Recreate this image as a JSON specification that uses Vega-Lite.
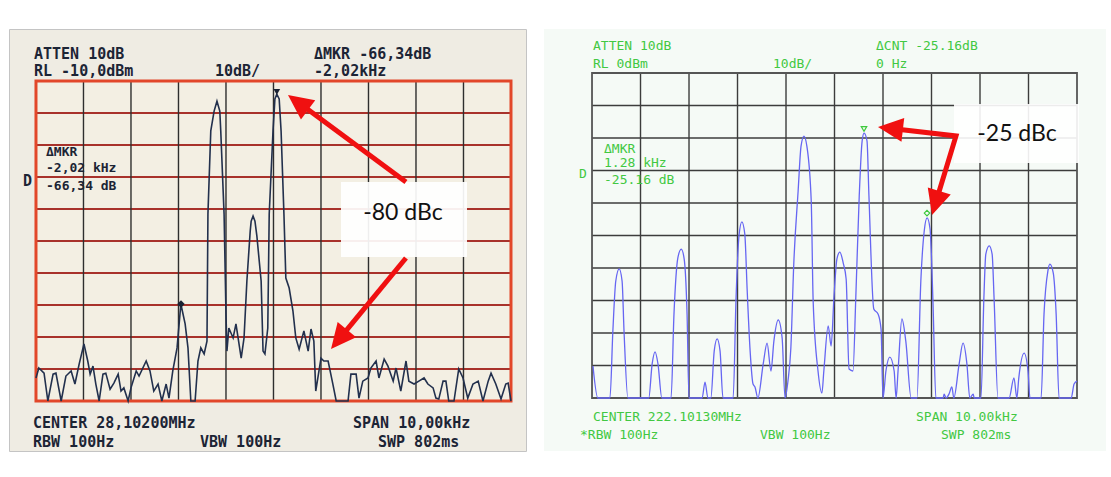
{
  "$schema": "https://vega.github.io/schema/vega-lite/v6.json",
  "background": "white",
  "padding": {"left": 8, "top": 28, "right": 0, "bottom": 0},
  "spacing": 18,
  "bounds": "flush",
  "config": {"view": {"stroke": null}, "axis": {"disable": true}},
  "datasets": {
    "leftTrace": [
      {"f":-5.00,"db":-102.8},{"f":-4.94,"db":-99.7},{"f":-4.83,"db":-101.3},{"f":-4.75,"db":-110},{"f":-4.64,"db":-101.6},{"f":-4.58,"db":-101.3},{"f":-4.47,"db":-110},{"f":-4.37,"db":-102.2},{"f":-4.26,"db":-100.6},{"f":-4.18,"db":-104.7},{"f":-4.09,"db":-98.4},{"f":-3.99,"db":-92.2},{"f":-3.91,"db":-97.5},{"f":-3.86,"db":-101.6},{"f":-3.80,"db":-99.1},{"f":-3.74,"db":-104.7},{"f":-3.67,"db":-110},{"f":-3.59,"db":-101.6},{"f":-3.53,"db":-101.3},{"f":-3.44,"db":-106.3},{"f":-3.36,"db":-104.4},{"f":-3.27,"db":-101.6},{"f":-3.21,"db":-106.9},{"f":-3.15,"db":-105.9},{"f":-3.06,"db":-110},{"f":-3.00,"db":-105.9},{"f":-2.89,"db":-100.6},{"f":-2.83,"db":-102.2},{"f":-2.68,"db":-97.5},{"f":-2.60,"db":-100.6},{"f":-2.52,"db":-106.9},{"f":-2.43,"db":-104.7},{"f":-2.35,"db":-110},{"f":-2.26,"db":-104.7},{"f":-2.20,"db":-109.1},{"f":-2.12,"db":-100.6},{"f":-2.03,"db":-93.4},{"f":-1.95,"db":-79.7},{"f":-1.86,"db":-85.9},{"f":-1.80,"db":-93.4},{"f":-1.74,"db":-110},{"f":-1.65,"db":-110},{"f":-1.59,"db":-97.5},{"f":-1.53,"db":-93.4},{"f":-1.46,"db":-95.3},{"f":-1.40,"db":-91.3},{"f":-1.38,"db":-51.6},{"f":-1.32,"db":-25.6},{"f":-1.25,"db":-19.4},{"f":-1.19,"db":-16.3},{"f":-1.13,"db":-19.4},{"f":-1.11,"db":-25.6},{"f":-1.04,"db":-51.6},{"f":-1.00,"db":-82.8},{"f":-0.98,"db":-94.4},{"f":-0.94,"db":-87.2},{"f":-0.85,"db":-90.3},{"f":-0.79,"db":-85.9},{"f":-0.68,"db":-96.6},{"f":-0.62,"db":-90.3},{"f":-0.56,"db":-72.5},{"f":-0.49,"db":-56.9},{"f":-0.47,"db":-53.8},{"f":-0.43,"db":-52.2},{"f":-0.39,"db":-53.8},{"f":-0.35,"db":-58.4},{"f":-0.26,"db":-72.5},{"f":-0.22,"db":-94.4},{"f":-0.18,"db":-95.3},{"f":-0.12,"db":-87.2},{"f":-0.09,"db":-51.6},{"f":-0.01,"db":-25.6},{"f":0.03,"db":-15.6},{"f":0.07,"db":-14.1},{"f":0.12,"db":-15.6},{"f":0.16,"db":-25.6},{"f":0.22,"db":-51.6},{"f":0.26,"db":-71.6},{"f":0.33,"db":-74.7},{"f":0.41,"db":-81.9},{"f":0.47,"db":-90.3},{"f":0.54,"db":-93.8},{"f":0.64,"db":-88.1},{"f":0.73,"db":-94.4},{"f":0.79,"db":-87.5},{"f":0.85,"db":-91.3},{"f":0.89,"db":-106.9},{"f":1.00,"db":-96.6},{"f":1.06,"db":-97.5},{"f":1.15,"db":-97.5},{"f":1.25,"db":-104.7},{"f":1.32,"db":-110},{"f":1.57,"db":-110},{"f":1.63,"db":-101.6},{"f":1.74,"db":-101.6},{"f":1.80,"db":-109.1},{"f":1.88,"db":-103.8},{"f":1.99,"db":-102.8},{"f":2.05,"db":-99.7},{"f":2.16,"db":-97.5},{"f":2.22,"db":-102.8},{"f":2.33,"db":-96.9},{"f":2.41,"db":-99.1},{"f":2.52,"db":-103.8},{"f":2.58,"db":-99.7},{"f":2.68,"db":-106.9},{"f":2.79,"db":-97.5},{"f":2.85,"db":-103.8},{"f":2.96,"db":-104.7},{"f":3.06,"db":-103.8},{"f":3.17,"db":-102.8},{"f":3.25,"db":-104.7},{"f":3.36,"db":-105.9},{"f":3.42,"db":-109.1},{"f":3.48,"db":-109.4},{"f":3.57,"db":-103.8},{"f":3.63,"db":-103.8},{"f":3.69,"db":-110},{"f":3.80,"db":-110},{"f":3.90,"db":-100},{"f":3.99,"db":-102.8},{"f":4.09,"db":-109.1},{"f":4.20,"db":-104.7},{"f":4.31,"db":-103.8},{"f":4.41,"db":-110},{"f":4.52,"db":-103.8},{"f":4.58,"db":-101.3},{"f":4.68,"db":-104.7},{"f":4.79,"db":-109.4},{"f":4.89,"db":-104.7},{"f":4.94,"db":-104.4},{"f":5.00,"db":-110}
    ],
    "rightTrace": [
      {"f":-4.98,"db":-90.2},{"f":-4.88,"db":-100},{"f":-4.63,"db":-100},{"f":-4.57,"db":-79.4},{"f":-4.51,"db":-64.0},{"f":-4.44,"db":-60.3},{"f":-4.38,"db":-64.0},{"f":-4.34,"db":-79.4},{"f":-4.26,"db":-100},{"f":-3.83,"db":-100},{"f":-3.76,"db":-89.5},{"f":-3.70,"db":-85.8},{"f":-3.64,"db":-89.5},{"f":-3.56,"db":-100},{"f":-3.37,"db":-100},{"f":-3.31,"db":-74.2},{"f":-3.23,"db":-56.9},{"f":-3.16,"db":-54.2},{"f":-3.10,"db":-57.2},{"f":-3.04,"db":-74.2},{"f":-3.00,"db":-100},{"f":-2.73,"db":-100},{"f":-2.67,"db":-95.1},{"f":-2.61,"db":-100},{"f":-2.55,"db":-100},{"f":-2.48,"db":-85.5},{"f":-2.42,"db":-81.8},{"f":-2.36,"db":-85.5},{"f":-2.30,"db":-100},{"f":-2.09,"db":-100},{"f":-2.03,"db":-69.2},{"f":-1.97,"db":-50.2},{"f":-1.91,"db":-45.8},{"f":-1.85,"db":-49.5},{"f":-1.80,"db":-67.1},{"f":-1.74,"db":-85.5},{"f":-1.68,"db":-95.7},{"f":-1.64,"db":-96.6},{"f":-1.58,"db":-100},{"f":-1.47,"db":-89.5},{"f":-1.39,"db":-83.1},{"f":-1.31,"db":-91.7},{"f":-1.25,"db":-82.5},{"f":-1.16,"db":-76.0},{"f":-1.08,"db":-81.5},{"f":-1.02,"db":-100},{"f":-0.96,"db":-94.8},{"f":-0.90,"db":-84.6},{"f":-0.84,"db":-58.8},{"f":-0.75,"db":-36.3},{"f":-0.69,"db":-22.5},{"f":-0.63,"db":-19.4},{"f":-0.57,"db":-22.5},{"f":-0.48,"db":-39.4},{"f":-0.44,"db":-70.2},{"f":-0.34,"db":-91.7},{"f":-0.26,"db":-98.5},{"f":-0.22,"db":-91.7},{"f":-0.13,"db":-77.8},{"f":-0.07,"db":-84.0},{"f":-0.01,"db":-68.6},{"f":0.05,"db":-57.2},{"f":0.11,"db":-55.1},{"f":0.18,"db":-58.5},{"f":0.24,"db":-63.4},{"f":0.30,"db":-91.1},{"f":0.38,"db":-91.7},{"f":0.44,"db":-68.6},{"f":0.51,"db":-37.8},{"f":0.57,"db":-20.9},{"f":0.61,"db":-18.5},{"f":0.67,"db":-20.9},{"f":0.71,"db":-37.8},{"f":0.81,"db":-72.6},{"f":0.90,"db":-74.2},{"f":0.96,"db":-78.8},{"f":1.00,"db":-100},{"f":1.06,"db":-91.7},{"f":1.14,"db":-87.4},{"f":1.23,"db":-91.7},{"f":1.27,"db":-100},{"f":1.31,"db":-91.7},{"f":1.39,"db":-75.7},{"f":1.47,"db":-82.5},{"f":1.58,"db":-100},{"f":1.70,"db":-100},{"f":1.78,"db":-64.0},{"f":1.85,"db":-48.6},{"f":1.91,"db":-44.6},{"f":1.97,"db":-48.0},{"f":2.03,"db":-70.2},{"f":2.09,"db":-100},{"f":2.24,"db":-100},{"f":2.26,"db":-98.8},{"f":2.30,"db":-100},{"f":2.36,"db":-98.8},{"f":2.42,"db":-96.6},{"f":2.46,"db":-100},{"f":2.57,"db":-89.5},{"f":2.65,"db":-83.1},{"f":2.73,"db":-89.5},{"f":2.79,"db":-100},{"f":2.86,"db":-98.8},{"f":2.88,"db":-100},{"f":3.02,"db":-100},{"f":3.08,"db":-69.2},{"f":3.12,"db":-55.7},{"f":3.19,"db":-53.2},{"f":3.25,"db":-55.7},{"f":3.29,"db":-69.2},{"f":3.37,"db":-100},{"f":3.60,"db":-100},{"f":3.70,"db":-93.8},{"f":3.76,"db":-100},{"f":3.80,"db":-93.8},{"f":3.91,"db":-86.2},{"f":3.99,"db":-91.7},{"f":4.03,"db":-100},{"f":4.26,"db":-100},{"f":4.32,"db":-74.2},{"f":4.40,"db":-60.9},{"f":4.44,"db":-58.8},{"f":4.51,"db":-61.5},{"f":4.57,"db":-74.2},{"f":4.63,"db":-100},{"f":4.88,"db":-100},{"f":4.94,"db":-95.7},{"f":5.00,"db":-94.8}
    ],
    "vgrid": [{"f":-4},{"f":-3},{"f":-2},{"f":-1},{"f":0},{"f":1},{"f":2},{"f":3},{"f":4}],
    "leftH": [{"db":-20},{"db":-30},{"db":-40},{"db":-50},{"db":-60},{"db":-70},{"db":-80},{"db":-90},{"db":-100}],
    "rightH": [{"db":-10},{"db":-20},{"db":-30},{"db":-40},{"db":-50},{"db":-60},{"db":-70},{"db":-80},{"db":-90}],
    "leftText": [
      {"f":-5.042,"db":-1.56,"label":"ATTEN 10dB"},
      {"f":-5.042,"db":-6.88,"label":"RL -10,0dBm"},
      {"f":-1.232,"db":-6.88,"label":"10dB/"},
      {"f":0.853,"db":-1.56,"label":"ΔMKR -66,34dB"},
      {"f":0.853,"db":-6.88,"label":"-2,02kHz"},
      {"f":-5.274,"db":-41.25,"label":"D"},
      {"f":-5.063,"db":-116.9,"label":"CENTER 28,10200MHz"},
      {"f":1.674,"db":-116.9,"label":"SPAN 10,00kHz"},
      {"f":-5.063,"db":-122.8,"label":"RBW 100Hz"},
      {"f":-1.547,"db":-122.8,"label":"VBW 100Hz"},
      {"f":2.2,"db":-122.8,"label":"SWP 802ms"}
    ],
    "leftMkr": [
      {"f":-4.789,"db":-32.2,"label":"ΔMKR"},
      {"f":-4.789,"db":-37.2,"label":"-2,02 kHz"},
      {"f":-4.789,"db":-42.8,"label":"-66,34 dB"}
    ],
    "rightText": [
      {"f":-4.979,"db":8.46,"label":"ATTEN 10dB"},
      {"f":-4.979,"db":2.65,"label":"RL 0dBm"},
      {"f":-1.268,"db":2.65,"label":"10dB/"},
      {"f":0.856,"db":8.46,"label":"ΔCNT -25.16dB"},
      {"f":0.856,"db":2.65,"label":"0 Hz"},
      {"f":-4.753,"db":-23.38,"label":"ΔMKR"},
      {"f":-4.753,"db":-27.69,"label":"1.28 kHz"},
      {"f":-4.753,"db":-32.92,"label":"-25.16 dB"},
      {"f":-5.268,"db":-31.08,"label":"D"},
      {"f":-4.979,"db":-105.85,"label":"CENTER 222.10130MHz"},
      {"f":1.680,"db":-105.85,"label":"SPAN 10.00kHz"},
      {"f":-5.247,"db":-111.38,"label":"*RBW 100Hz"},
      {"f":-1.536,"db":-111.38,"label":"VBW 100Hz"},
      {"f":2.196,"db":-111.38,"label":"SWP 802ms"}
    ]
  },
  "hconcat": [
    {
      "width": 517,
      "height": 422,
      "view": {"fill": "#efece3", "stroke": "#c4c4c4", "strokeWidth": 1},
      "layer": [
        {
          "data": {"values": [{}]},
          "mark": {"type": "rect", "fill": "#f3efe3"},
          "encoding": {"x": {"datum": -5, "type": "quantitative"}, "x2": {"datum": 5}, "y": {"datum": -10, "type": "quantitative"}, "y2": {"datum": -110}}
        },
        {
          "data": {"name": "leftH"},
          "mark": {"type": "rule", "color": "#a8322b", "strokeWidth": 2.2},
          "encoding": {"x": {"datum": -5, "type": "quantitative"}, "x2": {"datum": 5}, "y": {"field": "db", "type": "quantitative"}}
        },
        {
          "data": {"name": "vgrid"},
          "mark": {"type": "rule", "color": "#2e2e2e", "strokeWidth": 1.4},
          "encoding": {"x": {"field": "f", "type": "quantitative"}, "y": {"datum": -10, "type": "quantitative"}, "y2": {"datum": -110}}
        },
        {
          "data": {"values": [{}]},
          "mark": {"type": "rect", "fillOpacity": 0, "stroke": "#e2472a", "strokeWidth": 3},
          "encoding": {"x": {"datum": -5, "type": "quantitative"}, "x2": {"datum": 5}, "y": {"datum": -10, "type": "quantitative"}, "y2": {"datum": -110}}
        },
        {
          "data": {"name": "leftTrace"},
          "mark": {"type": "line", "color": "#22304d", "strokeWidth": 1.6},
          "encoding": {
            "x": {"field": "f", "type": "quantitative", "scale": {"domain": [-5.568, 5.316], "nice": false, "zero": false}, "axis": null},
            "y": {"field": "db", "type": "quantitative", "scale": {"domain": [-125.625, 6.25], "nice": false, "zero": false}, "axis": null}
          }
        },
        {
          "data": {"values": [{"f": 0.07, "db": -13.4}]},
          "mark": {"type": "point", "shape": "triangle-down", "size": 45, "filled": true, "color": "#1a2233", "opacity": 1},
          "encoding": {"x": {"field": "f", "type": "quantitative"}, "y": {"field": "db", "type": "quantitative"}}
        },
        {
          "data": {"values": [{"f": -1.947, "db": -79.7}]},
          "mark": {"type": "point", "shape": "diamond", "size": 55, "filled": true, "color": "#1a2233", "opacity": 1},
          "encoding": {"x": {"field": "f", "type": "quantitative"}, "y": {"field": "db", "type": "quantitative"}}
        },
        {
          "data": {"name": "leftText"},
          "mark": {"type": "text", "align": "left", "baseline": "middle", "font": "DejaVu Sans Mono", "fontWeight": "bold", "fontSize": 15, "color": "#1c2435"},
          "encoding": {"x": {"field": "f", "type": "quantitative"}, "y": {"field": "db", "type": "quantitative"}, "text": {"field": "label"}}
        },
        {
          "data": {"name": "leftMkr"},
          "mark": {"type": "text", "align": "left", "baseline": "middle", "font": "DejaVu Sans Mono", "fontWeight": "bold", "fontSize": 13, "color": "#1c2435"},
          "encoding": {"x": {"field": "f", "type": "quantitative"}, "y": {"field": "db", "type": "quantitative"}, "text": {"field": "label"}}
        },
        {
          "data": {"values": [{}]},
          "mark": {"type": "rect", "fill": "white", "opacity": 0.92},
          "encoding": {"x": {"datum": 1.421, "type": "quantitative"}, "x2": {"datum": 4.074}, "y": {"datum": -41.56, "type": "quantitative"}, "y2": {"datum": -65.0}}
        },
        {
          "data": {"values": [{"f": 2.726, "db": -51.25, "label": "-80 dBc"}]},
          "mark": {"type": "text", "align": "center", "baseline": "middle", "font": "Lato", "fontSize": 23, "color": "#111111"},
          "encoding": {"x": {"field": "f", "type": "quantitative"}, "y": {"field": "db", "type": "quantitative"}, "text": {"field": "label"}}
        },
        {
          "data": {"values": [{"a": 1, "i": 0, "f": 2.789, "db": -41.56}, {"a": 1, "i": 1, "f": 0.655, "db": -18.1}, {"a": 2, "i": 0, "f": 2.789, "db": -65.31}, {"a": 2, "i": 1, "f": 1.478, "db": -88.94}]},
          "mark": {"type": "line", "color": "#f01010", "strokeWidth": 5, "strokeCap": "butt"},
          "encoding": {"x": {"field": "f", "type": "quantitative"}, "y": {"field": "db", "type": "quantitative"}, "detail": {"field": "a"}, "order": {"field": "i"}}
        },
        {
          "data": {"values": [{"f": 0.305, "db": -14.38}]},
          "mark": {"type": "point", "shape": "M0,0L0.48,1L-0.48,1Z", "size": 2500, "filled": true, "color": "#f01010", "opacity": 1, "strokeWidth": 0, "angle": 306.4},
          "encoding": {"x": {"field": "f", "type": "quantitative"}, "y": {"field": "db", "type": "quantitative"}}
        },
        {
          "data": {"values": [{"f": 1.211, "db": -93.75}]},
          "mark": {"type": "point", "shape": "M0,0L0.48,1L-0.48,1Z", "size": 2500, "filled": true, "color": "#f01010", "opacity": 1, "strokeWidth": 0, "angle": 219.5},
          "encoding": {"x": {"field": "f", "type": "quantitative"}, "y": {"field": "db", "type": "quantitative"}}
        }
      ]
    },
    {
      "width": 562,
      "height": 422,
      "view": {"fill": "#f5faf6", "stroke": null},
      "layer": [
        {
          "data": {"name": "rightH"},
          "mark": {"type": "rule", "color": "#3c3c3c", "strokeWidth": 1.4},
          "encoding": {"x": {"datum": -5, "type": "quantitative"}, "x2": {"datum": 5}, "y": {"field": "db", "type": "quantitative"}}
        },
        {
          "data": {"name": "vgrid"},
          "mark": {"type": "rule", "color": "#3c3c3c", "strokeWidth": 1.4},
          "encoding": {"x": {"field": "f", "type": "quantitative"}, "y": {"datum": 0, "type": "quantitative"}, "y2": {"datum": -100}}
        },
        {
          "data": {"values": [{}]},
          "mark": {"type": "rect", "fillOpacity": 0, "stroke": "#555555", "strokeWidth": 1.8},
          "encoding": {"x": {"datum": -5, "type": "quantitative"}, "x2": {"datum": 5}, "y": {"datum": 0, "type": "quantitative"}, "y2": {"datum": -100}}
        },
        {
          "data": {"name": "rightTrace"},
          "mark": {"type": "line", "color": "#6666f2", "strokeWidth": 1.3, "interpolate": "monotone"},
          "encoding": {
            "x": {"field": "f", "type": "quantitative", "scale": {"domain": [-5.990, 5.598], "nice": false, "zero": false}, "axis": null},
            "y": {"field": "db", "type": "quantitative", "scale": {"domain": [-116.31, 13.54], "nice": false, "zero": false}, "axis": null}
          }
        },
        {
          "data": {"values": [{"f": 0.608, "db": -17.2}]},
          "mark": {"type": "point", "shape": "triangle-down", "size": 30, "filled": false, "color": "#3dc93d", "strokeWidth": 1.2, "opacity": 1},
          "encoding": {"x": {"field": "f", "type": "quantitative"}, "y": {"field": "db", "type": "quantitative"}}
        },
        {
          "data": {"values": [{"f": 1.907, "db": -43.1}]},
          "mark": {"type": "point", "shape": "diamond", "size": 30, "filled": false, "color": "#3dc93d", "strokeWidth": 1.2, "opacity": 1},
          "encoding": {"x": {"field": "f", "type": "quantitative"}, "y": {"field": "db", "type": "quantitative"}}
        },
        {
          "data": {"name": "rightText"},
          "mark": {"type": "text", "align": "left", "baseline": "middle", "font": "DejaVu Sans Mono", "fontSize": 13, "color": "#42c842"},
          "encoding": {"x": {"field": "f", "type": "quantitative"}, "y": {"field": "db", "type": "quantitative"}, "text": {"field": "label"}}
        },
        {
          "data": {"values": [{}]},
          "mark": {"type": "rect", "fill": "white", "opacity": 0.9},
          "encoding": {"x": {"datum": 2.464, "type": "quantitative"}, "x2": {"datum": 5.041}, "y": {"datum": -9.54, "type": "quantitative"}, "y2": {"datum": -27.69}}
        },
        {
          "data": {"values": [{"f": 3.763, "db": -18.77, "label": "-25 dBc"}]},
          "mark": {"type": "text", "align": "center", "baseline": "middle", "font": "Lato", "fontSize": 23, "color": "#111111"},
          "encoding": {"x": {"field": "f", "type": "quantitative"}, "y": {"field": "db", "type": "quantitative"}, "text": {"field": "label"}}
        },
        {
          "data": {"values": [{"i": 0, "f": 1.307, "db": -17.32}, {"i": 1, "f": 2.505, "db": -19.38}, {"i": 2, "f": 2.130, "db": -37.8}]},
          "mark": {"type": "line", "color": "#f01010", "strokeWidth": 5, "strokeCap": "butt", "strokeJoin": "miter"},
          "encoding": {"x": {"field": "f", "type": "quantitative"}, "y": {"field": "db", "type": "quantitative"}, "order": {"field": "i"}}
        },
        {
          "data": {"values": [{"f": 0.897, "db": -16.62}]},
          "mark": {"type": "point", "shape": "M0,0L0.48,1L-0.48,1Z", "size": 2500, "filled": true, "color": "#f01010", "opacity": 1, "strokeWidth": 0, "angle": 276.6},
          "encoding": {"x": {"field": "f", "type": "quantitative"}, "y": {"field": "db", "type": "quantitative"}}
        },
        {
          "data": {"values": [{"f": 2.010, "db": -43.69}]},
          "mark": {"type": "point", "shape": "M0,0L0.48,1L-0.48,1Z", "size": 2500, "filled": true, "color": "#f01010", "opacity": 1, "strokeWidth": 0, "angle": 196.9},
          "encoding": {"x": {"field": "f", "type": "quantitative"}, "y": {"field": "db", "type": "quantitative"}}
        }
      ]
    }
  ]
}
